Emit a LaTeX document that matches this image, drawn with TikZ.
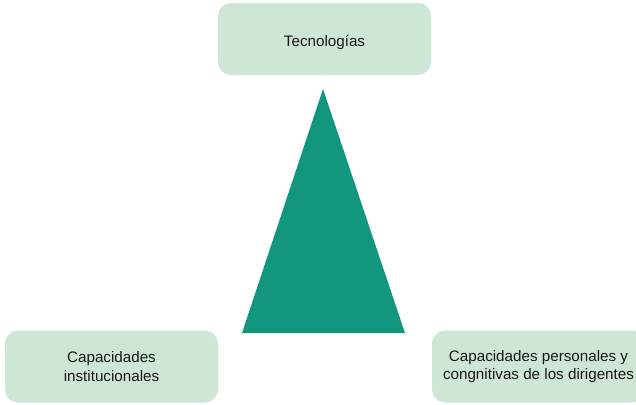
\documentclass[tikz,border=0pt]{standalone}
\usepackage[svgnames]{xcolor}
\usepackage{fontspec}
\setmainfont{Liberation Sans}
\usepackage{tikz}
\definecolor{menta}{RGB}{205,230,213}
\definecolor{verdeazul}{RGB}{18,150,126}
\tikzstyle{bloque}=[fill=menta,rounded corners=13pt,minimum width=213pt,minimum height=72pt,align=center,font=\fontsize{15.2}{18.5}\selectfont,text=black!90]
\tikzstyle{piramide}=[fill=verdeazul]

\begin{document}
\begin{tikzpicture}[x=1pt,y=-1pt]
\useasboundingbox (0,0) rectangle (636,404);
\node[bloque,text height=16pt,text depth=0pt] (tec) at (324.5,39) {Tecnologías};
\foreach \place/\name/\texto in
  {{(111.5,366.5)/inst/Capacidades\\institucionales},
   {(538.5,366.5)/pers/Capacidades personales y\\congnitivas de los dirigentes}}
    \node[bloque] (\name) at \place {\texto};
% triangulo central
\coordinate (cima) at (323,89);
\coordinate (izq) at (242,333);
\coordinate (der) at (405,333);
\fill[piramide] (cima) -- (der) -- (izq) -- cycle;
\end{tikzpicture}
\end{document}
